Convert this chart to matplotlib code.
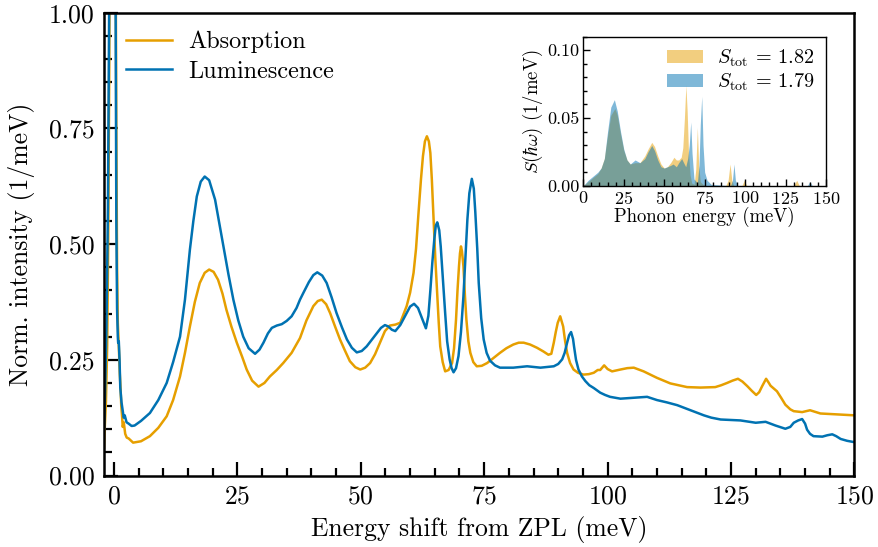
import matplotlib
matplotlib.use("Agg")
import matplotlib.pyplot as plt
from matplotlib.ticker import MultipleLocator, FormatStrFormatter

plt.rcParams.update({
    "font.family": "serif",
    "font.serif": ["cmr10"],
    "mathtext.fontset": "cm",
    "axes.formatter.use_mathtext": True,
    "axes.unicode_minus": False,
    "font.size": 15,
})

ORANGE = "#E69F00"
BLUE = "#0072B2"

# Normalised absorption spectrum (1/meV) vs energy shift from the ZPL (meV)
abs_x = [-2.0, -1.9, -1.6, -1.35, -1.15, -0.95, -0.7, -0.35, 0.0, 0.3,
         0.5, 0.65, 0.8, 1.0, 1.2, 1.35, 1.5, 1.65, 1.8, 2.0,
         2.3, 2.6, 3.0, 3.9, 5.5, 7.3, 9.0, 10.7, 12.0, 13.4,
         14.4, 15.4, 16.4, 17.4, 18.4, 19.3, 20.2, 21.1, 22.0, 22.8,
         23.8, 24.9, 26.0, 26.9, 28.0, 29.3, 30.5, 31.6, 33.0, 34.3,
         36.0, 37.7, 39.0, 40.4, 41.3, 42.1, 43.0, 43.8, 44.8, 45.8,
         46.8, 47.8, 48.9, 49.9, 50.9, 51.9, 52.9, 53.9, 54.9, 55.9,
         57.0, 58.0, 59.3, 60.0, 60.7, 61.2, 61.7, 62.2, 62.6, 63.0,
         63.4, 63.8, 64.1, 64.4, 64.7, 65.1, 65.4, 65.8, 66.1, 66.6,
         67.1, 67.8, 68.5, 68.9, 69.3, 69.6, 69.9, 70.1, 70.3, 70.5,
         70.8, 71.1, 71.4, 71.8, 72.2, 72.8, 73.5, 74.5, 75.6, 76.9,
         78.2, 79.5, 80.9, 82.0, 83.0, 84.3, 85.7, 87.0, 88.0, 88.6,
         89.1, 89.5, 89.9, 90.4, 91.0, 91.4, 91.8, 92.4, 93.1, 94.0,
         95.1, 96.2, 97.2, 98.0, 98.5, 99.3, 100.0, 100.9, 102.6, 104.0,
         105.3, 107.3, 110.0, 112.7, 116.1, 118.8, 121.8, 123.0, 124.2, 125.3,
         126.4, 127.3, 128.3, 129.2, 130.1, 130.7, 131.3, 132.1, 132.6, 133.0,
         134.3, 135.2, 136.0, 137.0, 137.7, 139.4, 141.0, 143.1, 146.5, 150.0]
abs_y = [0.06, 0.09, 0.16, 0.28, 0.5, 0.85, 1.5, 3.0, 2.2, 1.3,
         0.75, 0.45, 0.33, 0.28, 0.22, 0.19, 0.15, 0.13, 0.105, 0.115,
         0.09, 0.082, 0.08, 0.071, 0.074, 0.085, 0.103, 0.128, 0.163, 0.214,
         0.265, 0.322, 0.375, 0.416, 0.438, 0.445, 0.440, 0.423, 0.393, 0.358,
         0.322, 0.287, 0.256, 0.229, 0.205, 0.192, 0.200, 0.214, 0.228, 0.243,
         0.265, 0.297, 0.335, 0.366, 0.377, 0.380, 0.370, 0.351, 0.322, 0.294,
         0.270, 0.247, 0.234, 0.229, 0.233, 0.243, 0.262, 0.287, 0.312, 0.324,
         0.326, 0.330, 0.366, 0.395, 0.438, 0.490, 0.567, 0.640, 0.690, 0.722,
         0.733, 0.722, 0.697, 0.640, 0.567, 0.470, 0.409, 0.330, 0.279, 0.245,
         0.225, 0.228, 0.243, 0.275, 0.337, 0.400, 0.452, 0.480, 0.495, 0.485,
         0.452, 0.390, 0.337, 0.290, 0.265, 0.245, 0.236, 0.237, 0.243, 0.254,
         0.265, 0.275, 0.283, 0.287, 0.287, 0.283, 0.276, 0.268, 0.261, 0.263,
         0.287, 0.310, 0.330, 0.344, 0.322, 0.290, 0.265, 0.243, 0.229, 0.222,
         0.218, 0.219, 0.222, 0.228, 0.228, 0.238, 0.230, 0.225, 0.229, 0.232,
         0.233, 0.225, 0.211, 0.199, 0.191, 0.190, 0.191, 0.195, 0.200, 0.205,
         0.209, 0.203, 0.193, 0.183, 0.174, 0.180, 0.193, 0.209, 0.201, 0.194,
         0.182, 0.167, 0.153, 0.143, 0.139, 0.137, 0.141, 0.134, 0.132, 0.130]

# Normalised luminescence spectrum (1/meV)
lum_x = [-2.0, -1.8, -1.5, -1.2, -0.9, -0.4, 0.0, 0.3, 0.5, 0.65,
         0.8, 0.87, 1.0, 1.15, 1.3, 1.55, 1.8, 2.0, 2.2, 2.57,
         3.0, 3.6, 4.2, 5.5, 7.3, 9.0, 10.7, 12.0, 13.4, 14.4,
         15.4, 16.1, 16.8, 17.6, 18.4, 19.3, 20.5, 21.3, 22.2, 23.2,
         24.2, 25.2, 26.2, 27.3, 28.6, 29.5, 30.3, 31.2, 32.0, 33.0,
         34.0, 35.0, 36.0, 37.0, 37.7, 38.4, 39.5, 40.4, 41.2, 42.2,
         43.1, 44.1, 45.1, 46.2, 47.2, 48.2, 49.2, 50.2, 51.2, 52.3,
         53.3, 54.1, 54.9, 55.6, 56.3, 57.0, 58.0, 59.0, 60.0, 60.8,
         61.6, 62.4, 63.2, 63.7, 64.1, 64.5, 64.9, 65.2, 65.5, 65.9,
         66.2, 66.6, 67.1, 67.5, 68.0, 68.4, 68.8, 69.3, 69.8, 70.3,
         70.8, 71.2, 71.6, 72.0, 72.5, 72.9, 73.2, 73.6, 73.9, 74.4,
         74.9, 75.5, 76.2, 77.2, 78.2, 80.9, 83.7, 86.4, 89.1, 90.0,
         90.8, 91.3, 91.8, 92.2, 92.6, 93.0, 93.2, 93.6, 94.1, 94.8,
         95.5, 96.3, 97.2, 98.5, 99.5, 100.5, 102.6, 105.3, 108.0, 110.0,
         112.0, 114.1, 116.8, 119.5, 121.0, 122.9, 126.9, 130.0, 132.0, 134.0,
         136.0, 137.0, 137.7, 138.6, 139.4, 140.0, 140.4, 141.0, 141.7, 143.5,
         144.5, 145.5, 146.3, 147.2, 148.5, 150.0]
lum_y = [0.10, 0.17, 0.32, 0.58, 1.1, 2.6, 2.2, 1.2, 0.55, 0.36,
         0.30, 0.287, 0.29, 0.25, 0.19, 0.158, 0.14, 0.125, 0.13, 0.115,
         0.112, 0.107, 0.108, 0.118, 0.135, 0.163, 0.200, 0.245, 0.300, 0.380,
         0.488, 0.550, 0.603, 0.635, 0.646, 0.638, 0.596, 0.548, 0.495, 0.435,
         0.380, 0.335, 0.300, 0.275, 0.263, 0.272, 0.287, 0.307, 0.319, 0.324,
         0.327, 0.334, 0.344, 0.362, 0.380, 0.395, 0.418, 0.433, 0.439, 0.432,
         0.416, 0.385, 0.351, 0.320, 0.294, 0.276, 0.266, 0.269, 0.279, 0.294,
         0.308, 0.319, 0.325, 0.322, 0.315, 0.312, 0.325, 0.345, 0.365, 0.371,
         0.362, 0.340, 0.318, 0.345, 0.400, 0.460, 0.510, 0.540, 0.547, 0.530,
         0.495, 0.430, 0.351, 0.290, 0.251, 0.232, 0.223, 0.232, 0.258, 0.310,
         0.387, 0.470, 0.553, 0.610, 0.641, 0.620, 0.570, 0.490, 0.416, 0.340,
         0.294, 0.265, 0.248, 0.238, 0.233, 0.233, 0.236, 0.233, 0.236, 0.241,
         0.251, 0.265, 0.287, 0.303, 0.310, 0.295, 0.279, 0.250, 0.229, 0.214,
         0.204, 0.195, 0.189, 0.179, 0.174, 0.170, 0.166, 0.168, 0.170, 0.163,
         0.158, 0.152, 0.141, 0.130, 0.125, 0.121, 0.119, 0.114, 0.116, 0.108,
         0.101, 0.105, 0.114, 0.119, 0.122, 0.112, 0.099, 0.090, 0.085, 0.084,
         0.087, 0.089, 0.085, 0.079, 0.075, 0.072]

# Spectral densities of the electron-phonon coupling S(hbar omega) (1/meV)
s_abs_x = [0, 3, 6, 9, 11, 13, 15, 17, 19.5, 21,
           23, 25, 27, 29, 32, 35, 38, 40, 42.3, 44,
           46, 48, 50, 52, 54, 56, 57.5, 59, 60.5, 61.5,
           62.5, 63.4, 64.2, 65, 66, 67, 68.5, 69.5, 70.5, 71.3,
           72.3, 74, 76, 80, 88, 89.5, 90.7, 91.8, 93, 98,
           99.5, 101, 105, 130, 131.9, 133.5, 140, 150]
s_abs_y = [0, 0.003, 0.006, 0.009, 0.013, 0.020, 0.037, 0.052, 0.057, 0.052,
           0.038, 0.026, 0.019, 0.016, 0.017, 0.017, 0.022, 0.027, 0.032, 0.029,
           0.022, 0.016, 0.013, 0.014, 0.017, 0.021, 0.019, 0.019, 0.021, 0.028,
           0.050, 0.074, 0.055, 0.025, 0.008, 0.002, 0.001, 0.012, 0.043, 0.015,
           0.003, 0.001, 0, 0, 0, 0.004, 0.016, 0.004, 0, 0,
           0.004, 0, 0, 0, 0.004, 0, 0, 0]
s_lum_x = [0, 3, 6, 9, 11, 13, 15, 17, 19.2, 21,
           23, 25, 27, 29, 32, 35, 38, 40, 42.3, 44,
           46, 48, 50, 52, 54, 55.5, 57.5, 59, 60.8, 62,
           63.3, 64.5, 65.5, 66.4, 67.2, 68.4, 70.5, 71.5, 72.3, 73.2,
           74, 75, 76.5, 79, 91, 92.2, 93.1, 94, 95.5, 138.5,
           140, 141.5, 150]
s_lum_y = [0, 0.004, 0.007, 0.010, 0.013, 0.020, 0.040, 0.058, 0.0635, 0.055,
           0.040, 0.027, 0.019, 0.016, 0.019, 0.017, 0.020, 0.025, 0.0297, 0.026,
           0.019, 0.014, 0.013, 0.014, 0.015, 0.016, 0.014, 0.017, 0.020, 0.017,
           0.014, 0.020, 0.030, 0.047, 0.024, 0.005, 0.002, 0.015, 0.045, 0.066,
           0.030, 0.010, 0.004, 0.001, 0, 0.004, 0.016, 0.004, 0, 0,
           0.003, 0, 0]
s_tot = {"abs": 1.82, "lum": 1.79}

fig = plt.figure(figsize=(8.79, 5.47), dpi=100)

# ---- main spectra ----
ax = fig.add_axes([0.1183, 0.1307, 0.8538, 0.8461])
ax.plot(abs_x, abs_y, color=ORANGE, lw=1.8, label="Absorption")
ax.plot(lum_x, lum_y, color=BLUE, lw=1.8, label="Luminescence")
ax.set_xlim(-2, 150)
ax.set_ylim(0, 1)
ax.set_xticks([0, 25, 50, 75, 100, 125, 150])
ax.set_yticks([0, 0.25, 0.5, 0.75, 1.0])
ax.xaxis.set_minor_locator(MultipleLocator(5))
ax.yaxis.set_minor_locator(MultipleLocator(0.05))
ax.yaxis.set_major_formatter(FormatStrFormatter("%.2f"))
ax.tick_params(which="both", direction="in", top=False, right=False,
               width=1.6, labelsize=18.5)
ax.tick_params(which="major", length=10, pad=7)
ax.tick_params(which="minor", length=6)
for sp in ax.spines.values():
    sp.set_linewidth(1.8)
ax.set_xlabel("Energy shift from ZPL (meV)", fontsize=18.5, labelpad=5)
ax.set_ylabel("Norm. intensity (1/meV)", fontsize=18.5, labelpad=10)
ax.legend(loc="upper left", bbox_to_anchor=(0.0, 1.008), frameon=False,
          fontsize=17.5, handlelength=1.9, handletextpad=0.65, labelspacing=0.3)

# ---- inset: spectral densities ----
ins = fig.add_axes([0.6636, 0.6605, 0.2761, 0.2724])
ins.fill_between(s_abs_x, s_abs_y, color=ORANGE, alpha=0.5, lw=0,
                 label=r"$S_{\mathrm{tot}}$ = %.2f" % s_tot["abs"])
ins.fill_between(s_lum_x, s_lum_y, color=BLUE, alpha=0.5, lw=0,
                 label=r"$S_{\mathrm{tot}}$ = %.2f" % s_tot["lum"])
ins.set_xlim(0, 150)
ins.set_ylim(0, 0.11)
ins.set_xticks([0, 25, 50, 75, 100, 125, 150])
ins.set_yticks([0, 0.05, 0.10])
ins.xaxis.set_minor_locator(MultipleLocator(5))
ins.yaxis.set_minor_locator(MultipleLocator(0.01))
ins.yaxis.set_major_formatter(FormatStrFormatter("%.2f"))
ins.tick_params(which="both", direction="in", top=False, right=False,
                width=1.0, labelsize=13, pad=3)
ins.tick_params(which="major", length=5)
ins.tick_params(which="minor", length=3)
for sp in ins.spines.values():
    sp.set_linewidth(1.0)
ins.set_xlabel("Phonon energy (meV)", fontsize=13.5, labelpad=0)
ins.set_ylabel(r"$S(\hbar\omega)$ (1/meV)", fontsize=13.5, labelpad=1)
ins.legend(loc="upper right", frameon=False, fontsize=14.5,
           handlelength=1.8, handleheight=0.6, handletextpad=0.7,
           labelspacing=0.1, borderaxespad=0.15)

fig.savefig("out.png", dpi=100)
